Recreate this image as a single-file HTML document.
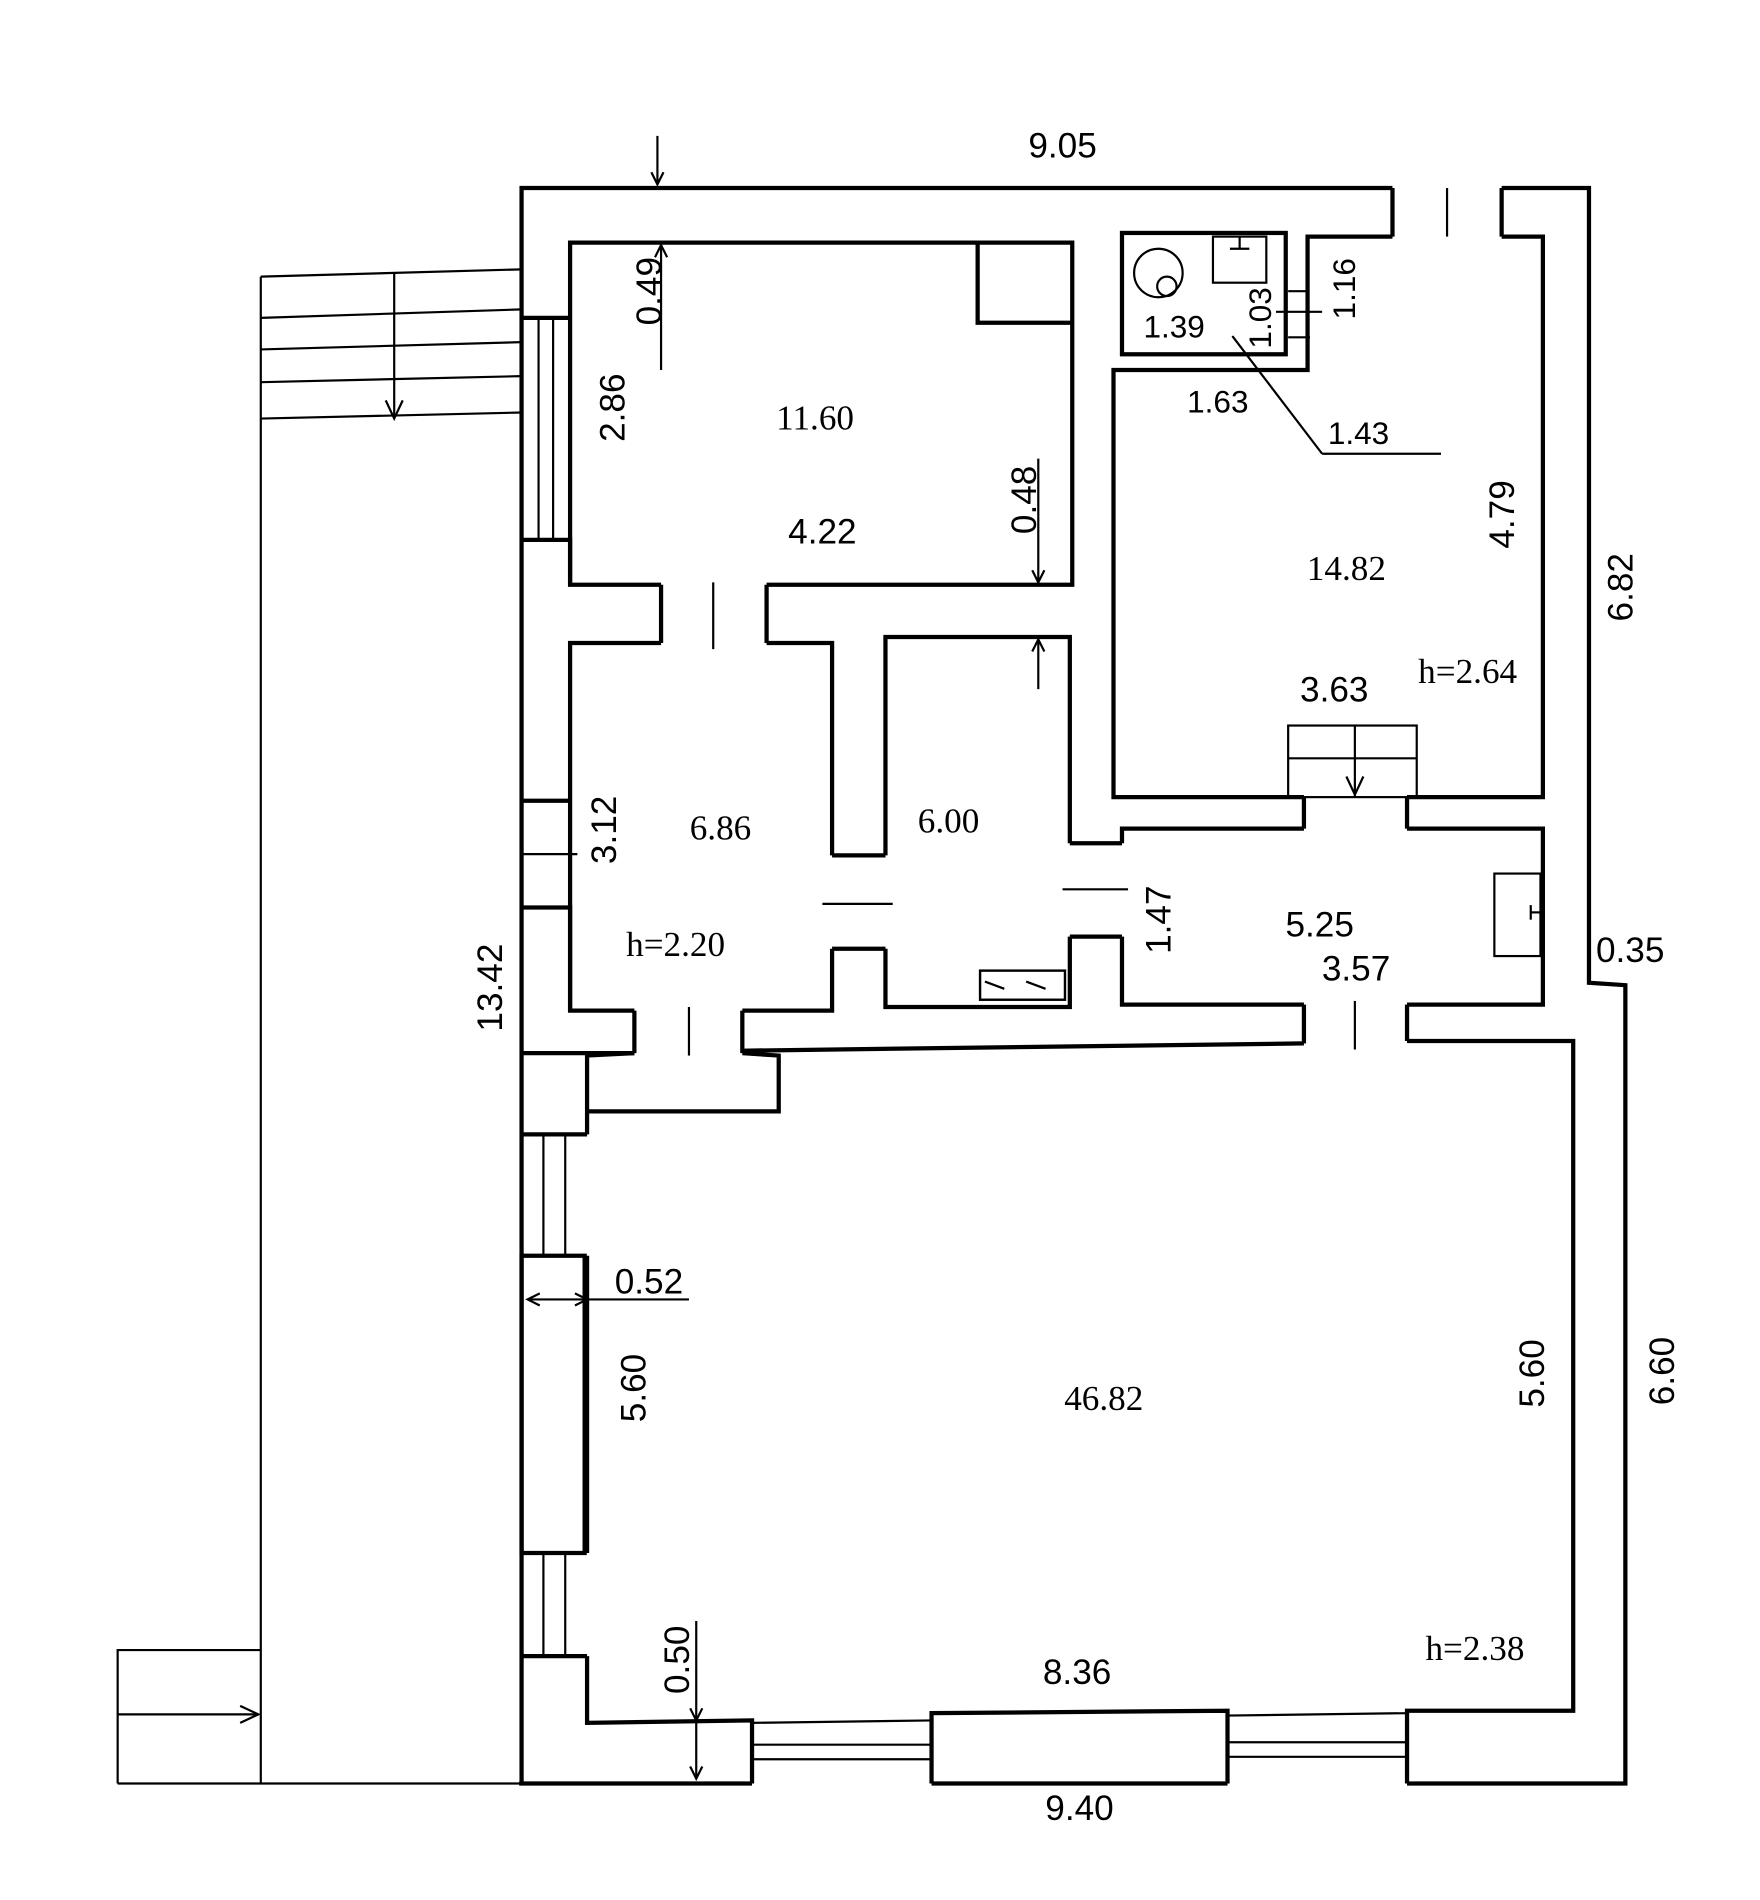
<!DOCTYPE html>
<html><head><meta charset="utf-8"><style>html,body{margin:0;padding:0;background:#fff}svg{display:block}</style></head>
<body>
<svg width="1760" height="1900" viewBox="0 0 1451 1566" preserveAspectRatio="none" xmlns="http://www.w3.org/2000/svg" font-family="Liberation Sans, sans-serif">
<rect width="1451" height="1566" fill="#fff"/>
<g fill="none" stroke="#000" stroke-width="3.5">
<polyline points="430,1470 430,155 1148,155"/>
<polyline points="1238,155 1310,155 1310,810 1340,812 1340,1470 1160,1470"/>
<line x1="428" y1="1470" x2="620" y2="1470"/>
<line x1="768" y1="1470" x2="1012" y2="1470"/>
<line x1="1148" y1="155" x2="1148" y2="195"/><line x1="1238" y1="155" x2="1238" y2="195"/>
<polyline points="545,482 470,482 470,200 884,200 884,482 632,482"/>
<polyline points="806,200 806,266 884,266"/>
<polyline points="545,530 470,530 470,833 523,833"/>
<polyline points="632,530 686,530 686,705"/>
<polyline points="686,782 686,833 612,833"/>
<polyline points="730,705 730,525 882,525 882,695"/>
<polyline points="730,782 730,830 882,830 882,772"/>
<rect x="808" y="800" width="70" height="24" stroke-width="2"/>
<rect x="925" y="192" width="135" height="100"/>
<polyline points="1148,195 1078,195 1078,305 918,305 918,657 1075,657"/>
<polyline points="1238,195 1272,195 1272,657 1160,657"/>
<polyline points="1075,683 925,683 925,695"/>
<polyline points="925,772 925,828 1075,828"/>
<polyline points="1160,683 1272,683 1272,828 1160,828"/>
<polyline points="523,868 430,868"/>
<polyline points="612,866 1075,860"/>
<polyline points="1160,858 1297,858 1297,1410 1160,1410 1160,1470"/>
<polyline points="484,935 484,870 523,868"/>
<polyline points="612,868 642,870 642,916 484,916"/>
<line x1="484" y1="1035" x2="484" y2="1280"/>
<polyline points="484,1365 484,1420 620,1418 620,1470"/>
<polyline points="768,1470 768,1412 1012,1410 1012,1470"/>
<polyline points="470,262 430,262"/>
<polyline points="430,445 470,445 470,482"/>
<polyline points="430,660 470,660"/>
<polyline points="430,748 470,748 470,833"/>
<polyline points="430,935 484,935"/>
<rect x="430" y="1035" width="52" height="245"/>
<polyline points="430,1365 484,1365"/>
<line x1="545" y1="482" x2="545" y2="530"/><line x1="632" y1="482" x2="632" y2="530"/>
<line x1="523" y1="833" x2="523" y2="868"/><line x1="612" y1="833" x2="612" y2="868"/>
<line x1="686" y1="705" x2="730" y2="705"/><line x1="686" y1="782" x2="730" y2="782"/>
<line x1="882" y1="695" x2="925" y2="695"/><line x1="882" y1="772" x2="925" y2="772"/>
<line x1="1075" y1="657" x2="1075" y2="683"/><line x1="1160" y1="657" x2="1160" y2="683"/>
<line x1="1075" y1="828" x2="1075" y2="860"/><line x1="1160" y1="828" x2="1160" y2="858"/>
</g>
<g fill="none" stroke="#000" stroke-width="1.8">
<line x1="444" y1="262" x2="444" y2="445"/><line x1="456" y1="262" x2="456" y2="445"/>
<line x1="448" y1="935" x2="448" y2="1035"/><line x1="466" y1="935" x2="466" y2="1035"/>
<line x1="448" y1="1280" x2="448" y2="1365"/><line x1="466" y1="1280" x2="466" y2="1365"/>
<line x1="620" y1="1420" x2="768" y2="1418"/>
<line x1="620" y1="1438" x2="768" y2="1438"/><line x1="620" y1="1450" x2="768" y2="1450"/>
<line x1="1012" y1="1414" x2="1160" y2="1412"/>
<line x1="1012" y1="1436" x2="1160" y2="1436"/><line x1="1012" y1="1448" x2="1160" y2="1448"/>
<line x1="1193" y1="155" x2="1193" y2="195"/>
<line x1="588" y1="480" x2="588" y2="535"/><line x1="568" y1="830" x2="568" y2="870"/>
<line x1="678" y1="745" x2="736" y2="745"/><line x1="876" y1="733" x2="930" y2="733"/>
<line x1="1117" y1="825" x2="1117" y2="865"/><line x1="430" y1="704" x2="476" y2="704"/>
<line x1="215" y1="228" x2="430" y2="222"/><line x1="215" y1="262" x2="430" y2="255"/>
<line x1="215" y1="288" x2="430" y2="282"/><line x1="215" y1="315" x2="430" y2="310"/>
<line x1="215" y1="345" x2="430" y2="340"/>
<line x1="215" y1="228" x2="215" y2="1470"/>
<line x1="325" y1="225" x2="325" y2="345"/>
<polyline points="318,330 325,345 332,330"/>
<polyline points="97,1470 97,1360 215,1360"/>
<line x1="97" y1="1413" x2="213" y2="1413"/>
<polyline points="198,1406 213,1413 198,1420"/>
<line x1="97" y1="1470" x2="430" y2="1470"/>
<rect x="1062" y="598" width="106" height="59"/>
<line x1="1117" y1="598" x2="1117" y2="657"/><line x1="1062" y1="625" x2="1168" y2="625"/>
<polyline points="1110,640 1117,655 1124,640"/>
<rect x="1000" y="195" width="44" height="38"/>
<line x1="1022" y1="195" x2="1022" y2="205"/><line x1="1014" y1="205" x2="1030" y2="205"/>
<g transform="rotate(-45 955 225)"><rect x="935" y="205" width="40" height="40" rx="20"/></g>
<circle cx="962" cy="236" r="8"/>
<line x1="1062" y1="240" x2="1078" y2="240"/><line x1="1062" y1="278" x2="1080" y2="278"/>
<line x1="1052" y1="257" x2="1090" y2="257"/>
<line x1="1016" y1="277" x2="1090" y2="374"/><line x1="1090" y1="374" x2="1188" y2="374"/>
<rect x="1232" y="720" width="38" height="68"/>
<line x1="1262" y1="746" x2="1262" y2="758"/><line x1="1262" y1="752" x2="1270" y2="752"/>
<line x1="542" y1="112" x2="542" y2="152"/><polyline points="537,142 542,152 547,142"/>
<line x1="545" y1="202" x2="545" y2="305"/><polyline points="540,212 545,202 550,212"/>
<line x1="856" y1="378" x2="856" y2="480"/><polyline points="851,470 856,480 861,470"/>
<line x1="856" y1="527" x2="856" y2="568"/><polyline points="851,537 856,527 861,537"/>
<line x1="435" y1="1071" x2="568" y2="1071"/><polyline points="445,1066 435,1071 445,1076"/><polyline points="474,1066 484,1071 474,1076"/>
<line x1="574" y1="1336" x2="574" y2="1465"/><polyline points="569,1408 574,1418 579,1408"/><polyline points="569,1456 574,1466 579,1456"/>
<line x1="812" y1="809" x2="828" y2="815"/><line x1="846" y1="809" x2="862" y2="815"/>
</g>
<g font-size="29" fill="#000" text-anchor="middle">
<text x="876" y="130">9.05</text>
<text x="890" y="1500">9.40</text>
<text x="672" y="354" font-family="Liberation Serif, serif">11.60</text>
<text x="678" y="448">4.22</text>
<text x="1110" y="478" font-family="Liberation Serif, serif">14.82</text>
<text x="1100" y="578">3.63</text>
<text x="1210" y="563" font-family="Liberation Serif, serif">h=2.64</text>
<text x="594" y="692" font-family="Liberation Serif, serif">6.86</text>
<text x="557" y="788" font-family="Liberation Serif, serif">h=2.20</text>
<text x="782" y="686" font-family="Liberation Serif, serif">6.00</text>
<text x="1088" y="772">5.25</text>
<text x="1118" y="808">3.57</text>
<text x="910" y="1162" font-family="Liberation Serif, serif">46.82</text>
<text x="888" y="1388">8.36</text>
<text x="1216" y="1368" font-family="Liberation Serif, serif">h=2.38</text>
<text x="1344" y="793">0.35</text>
<text x="535" y="1066">0.52</text>
<text x="968" y="278" font-size="26">1.39</text>
<text x="1004" y="340" font-size="26">1.63</text>
<text x="1120" y="366" font-size="26">1.43</text>
</g>
<g font-size="29" fill="#000" text-anchor="middle">
<text transform="translate(545,240) rotate(-90)">0.49</text>
<text transform="translate(515,336) rotate(-90)">2.86</text>
<text transform="translate(854,412) rotate(-90)">0.48</text>
<text transform="translate(1248,424) rotate(-90)">4.79</text>
<text transform="translate(1346,484) rotate(-90)">6.82</text>
<text transform="translate(508,684) rotate(-90)">3.12</text>
<text transform="translate(414,814) rotate(-90)">13.42</text>
<text transform="translate(965,758) rotate(-90)">1.47</text>
<text transform="translate(532,1144) rotate(-90)">5.60</text>
<text transform="translate(1273,1132) rotate(-90)">5.60</text>
<text transform="translate(1380,1130) rotate(-90)">6.60</text>
<text transform="translate(568,1368) rotate(-90)">0.50</text>
<text transform="translate(1048,262) rotate(-90)" font-size="26">1.03</text>
<text transform="translate(1117,238) rotate(-90)" font-size="26">1.16</text>
</g>
</svg>
</body></html>
